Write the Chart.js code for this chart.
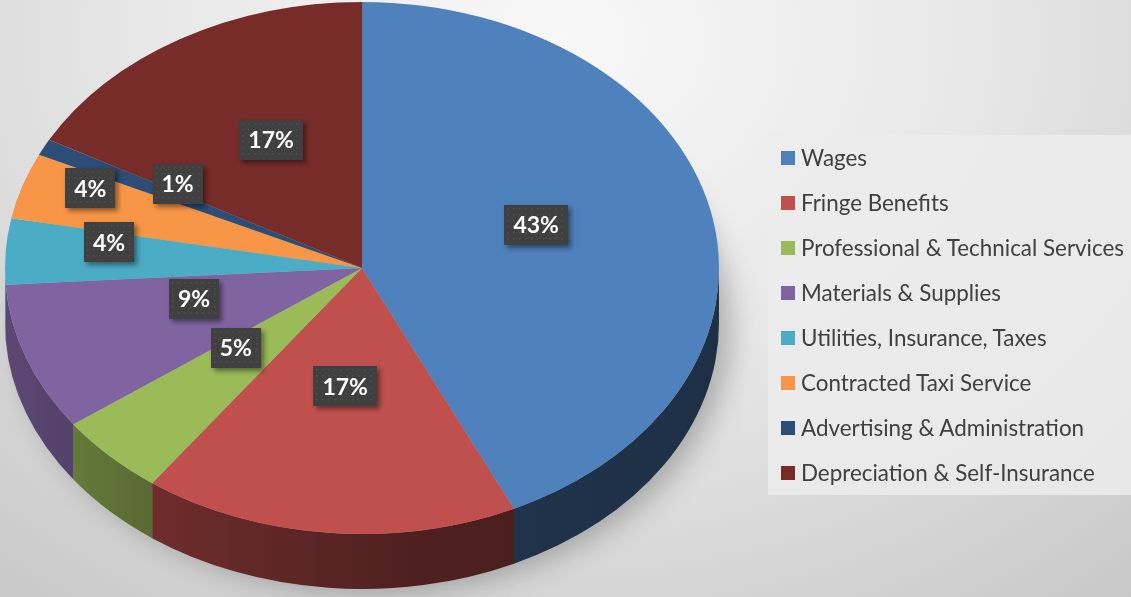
<!DOCTYPE html>
<html>
<head>
<meta charset="utf-8">
<script src="https://cdn.jsdelivr.net/npm/chart.js@4/dist/chart.umd.min.js"></script>
<style>
  html, body { margin: 0; padding: 0; width: 1131px; height: 597px; overflow: hidden; }
  body {
    background: radial-gradient(ellipse 900px 720px at 560px 40px, #f8f8f8 0%, #e8e8e8 45%, #c8c8c8 100%);
    font-family: Lato, "Open Sans", sans-serif;
  }
  .wrap { position: absolute; left: 0; top: 0; width: 1131px; height: 597px; }
  .legend {
    position: absolute; left: 768px; top: 135px; width: 363px; height: 360px;
    background: rgba(236, 236, 236, 0.85); box-sizing: border-box; padding-left: 13px;
  }
  .legend-item { height: 45px; display: flex; align-items: center; color: #404040; font-size: 22.4px; white-space: nowrap; }
  .legend-item .sw { width: 14px; height: 14px; margin-right: 6px; flex: none; }
</style>
</head>
<body>
<div class="wrap"><canvas id="pie"></canvas></div>
<div class="legend" id="legend"></div>
<script>
const categories = [
  'Wages',
  'Fringe Benefits',
  'Professional & Technical Services',
  'Materials & Supplies',
  'Utilities, Insurance, Taxes',
  'Contracted Taxi Service',
  'Advertising & Administration',
  'Depreciation & Self-Insurance'
];
const shares = [43, 17, 5, 9, 4, 4, 1, 17];
const sliceColors = ['#4F81BD', '#C0504D', '#9BBB59', '#8064A2', '#4BACC6', '#F79646', '#2C4D75', '#772C2A'];

// look of the tilted pie
const RX = 357, RY = 266, DEPTH = 55;
const labelReach = [0.5, 0.5, 0.5, 0.5, 0.71, 0.8, 0.58, 0.5];
const LABEL_LIFT = 14;

function shade(hex, f) {
  const n = parseInt(hex.slice(1), 16);
  const r = Math.round(((n >> 16) & 255) * f);
  const g = Math.round(((n >> 8) & 255) * f);
  const b = Math.round((n & 255) * f);
  return `rgb(${r},${g},${b})`;
}

const pie3d = {
  id: 'pie3d',
  beforeDatasetsDraw(chart) {
    const ctx = chart.ctx;
    const arcs = chart.getDatasetMeta(0).data;
    chart.$tilted = false;
    if (!arcs.length) return;
    const { x: cx, y: cy, outerRadius: r } = arcs[0];

    // soft shadow under the pie
    ctx.save();
    ctx.filter = 'blur(14px)';
    ctx.fillStyle = 'rgba(0,0,0,0.25)';
    ctx.beginPath();
    ctx.ellipse(cx + 12, cy + DEPTH + 4, RX, RY, 0, 0, Math.PI * 2);
    ctx.fill();
    ctx.restore();

    // side walls of the front half
    arcs.forEach((arc, i) => {
      const a1 = Math.max(arc.startAngle, 0);
      const a2 = Math.min(arc.endAngle, Math.PI);
      if (a2 <= a1) return;
      const col = sliceColors[i];
      const g = ctx.createLinearGradient(cx - RX, 0, cx + RX, 0);
      g.addColorStop(0, shade(col, 0.72));
      g.addColorStop(0.19, shade(col, 0.58));
      g.addColorStop(0.58, shade(col, 0.40));
      g.addColorStop(1, shade(col, 0.37));
      ctx.beginPath();
      ctx.ellipse(cx, cy, RX, RY, 0, a1, a2);
      ctx.ellipse(cx, cy + DEPTH, RX, RY, 0, a2, a1, true);
      ctx.closePath();
      ctx.fillStyle = g;
      ctx.fill();
    });

    ctx.save();
    ctx.translate(cx, cy);
    ctx.scale(RX / r, RY / r);
    ctx.translate(-cx, -cy);
    chart.$tilted = true;
  },
  afterDatasetsDraw(chart) {
    const ctx = chart.ctx;
    if (!chart.$tilted) return;
    ctx.restore();
    chart.$tilted = false;

    const arcs = chart.getDatasetMeta(0).data;
    const { x: cx, y: cy } = arcs[0];
    const values = chart.data.datasets[0].data;
    const total = values.reduce((s, v) => s + v, 0);

    ctx.save();
    ctx.font = 'bold 23px Lato, sans-serif';
    ctx.textAlign = 'center';
    ctx.textBaseline = 'middle';
    arcs.forEach((arc, i) => {
      const mid = (arc.startAngle + arc.endAngle) / 2;
      const k = labelReach[i];
      const x = cx + Math.cos(mid) * RX * k;
      const y = cy + Math.sin(mid) * RY * k - LABEL_LIFT;
      const text = Math.round(values[i] / total * 100) + '%';
      const w = Math.round(ctx.measureText(text).width + 18), h = 40;
      const left = Math.round(x - w / 2), top = Math.round(y - h / 2);

      ctx.shadowColor = 'rgba(0,0,0,0.45)';
      ctx.shadowBlur = 5;
      ctx.shadowOffsetX = 3;
      ctx.shadowOffsetY = 3;
      ctx.fillStyle = '#404040';
      ctx.fillRect(left, top, w, h);
      ctx.shadowColor = 'transparent';

      ctx.fillStyle = 'rgba(255,255,255,0.08)';
      for (let dx = 3; dx < w - 1; dx += 6) {
        for (let dy = 3; dy < h - 1; dy += 6) ctx.fillRect(left + dx, top + dy, 1.5, 1.5);
      }
      ctx.fillStyle = '#ffffff';
      ctx.fillText(text, x, y + 1);
    });
    ctx.restore();
  }
};

new Chart(document.getElementById('pie'), {
  type: 'pie',
  data: {
    labels: categories,
    datasets: [{
      data: shares,
      backgroundColor: sliceColors,
      borderWidth: 0,
      clip: false
    }]
  },
  options: {
    responsive: true,
    maintainAspectRatio: false,
    animation: false,
    events: [],
    layout: { padding: { top: 18, bottom: 79, left: 112, right: 519 } },
    plugins: {
      legend: { display: false },
      tooltip: { enabled: false }
    }
  },
  plugins: [pie3d]
});

const legend = document.getElementById('legend');
categories.forEach((name, i) => {
  const row = document.createElement('div');
  row.className = 'legend-item';
  const sw = document.createElement('span');
  sw.className = 'sw';
  sw.style.background = sliceColors[i];
  row.appendChild(sw);
  row.appendChild(document.createTextNode(name));
  legend.appendChild(row);
});
</script>
</body>
</html>
